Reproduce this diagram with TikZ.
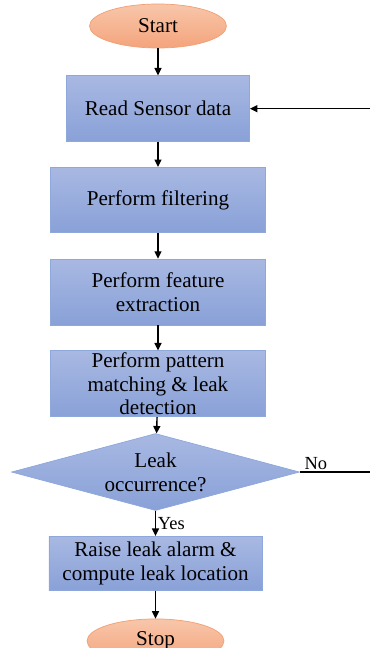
\documentclass[tikz,border=0pt]{standalone}
\usepackage{fontspec}
\setmainfont{Liberation Serif}
\usetikzlibrary{positioning, arrows.meta, shapes.geometric}
\definecolor{proctop}{RGB}{168,184,226}
\definecolor{procbot}{RGB}{137,161,216}
\definecolor{procline}{RGB}{143,168,220}
\definecolor{termtop}{RGB}{248,198,170}
\definecolor{termbot}{RGB}{244,164,124}
\definecolor{termline}{RGB}{240,160,115}

\begin{document}
\begin{tikzpicture}[
    node distance=0.5cm,
    proc/.style={draw=procline, top color=proctop, bottom color=procbot, align=center,
      minimum width=4.3cm, minimum height=1.3cm, inner sep=1pt,
      font=\fontsize{12}{13.5}\selectfont},
    term/.style={ellipse, draw=termline, top color=termtop, bottom color=termbot,
      minimum width=2.74cm, minimum height=0.88cm, inner sep=0pt,
      font=\fontsize{12}{13.5}\selectfont},
    decide/.style={diamond, draw=procline, top color=proctop, bottom color=procbot,
      aspect=3.74, minimum width=5.76cm, minimum height=1.54cm, inner sep=0pt,
      align=center, font=\fontsize{12}{13.5}\selectfont},
    arr/.style={-{Triangle[length=1.5mm, width=1.4mm]}, line width=0.8pt},
    lbl/.style={font=\fontsize{10.5}{12}\selectfont, inner sep=1pt}
  ]
    \useasboundingbox (-3.16,0.52) rectangle (4.22,-12.44);
    \node[term] (start) at (0,0) {Start};
    \node[proc, below=0.54cm of start, minimum width=3.66cm, minimum height=1.32cm]
      (read) {Read Sensor data};
    \node[proc, below=of read] (filter) {Perform filtering};
    \node[proc, below=0.52cm of filter, minimum height=1.32cm]
      (feat) {Perform feature\\extraction};
    \node[proc, below=of feat] (match) {Perform pattern\\matching \& leak\\detection};
    \node[decide, below=0.32cm of match, xshift=-0.05cm] (leak) {Leak\\occurrence?};
    \node[proc, below=of leak, minimum width=4.26cm, minimum height=1.08cm]
      (alarm) {Raise leak alarm \&\\compute leak location};
    \node[term, below=0.56cm of alarm] (stop) {Stop};
    \draw[arr] (start) -- (read);
    \draw[arr] (read) -- (filter);
    \draw[arr] (filter) -- (feat);
    \draw[arr] (feat) -- (match);
    \draw[arr] (match) -- (leak);
    \draw[arr] (leak) -- node[lbl, right] {Yes} (alarm);
    \draw[arr] (alarm) -- (stop);
    \draw[arr] (leak.east) -- node[lbl, above, pos=0.2] {No} ++(1.6,0) |- (read.east);
  \end{tikzpicture}
\end{document}
